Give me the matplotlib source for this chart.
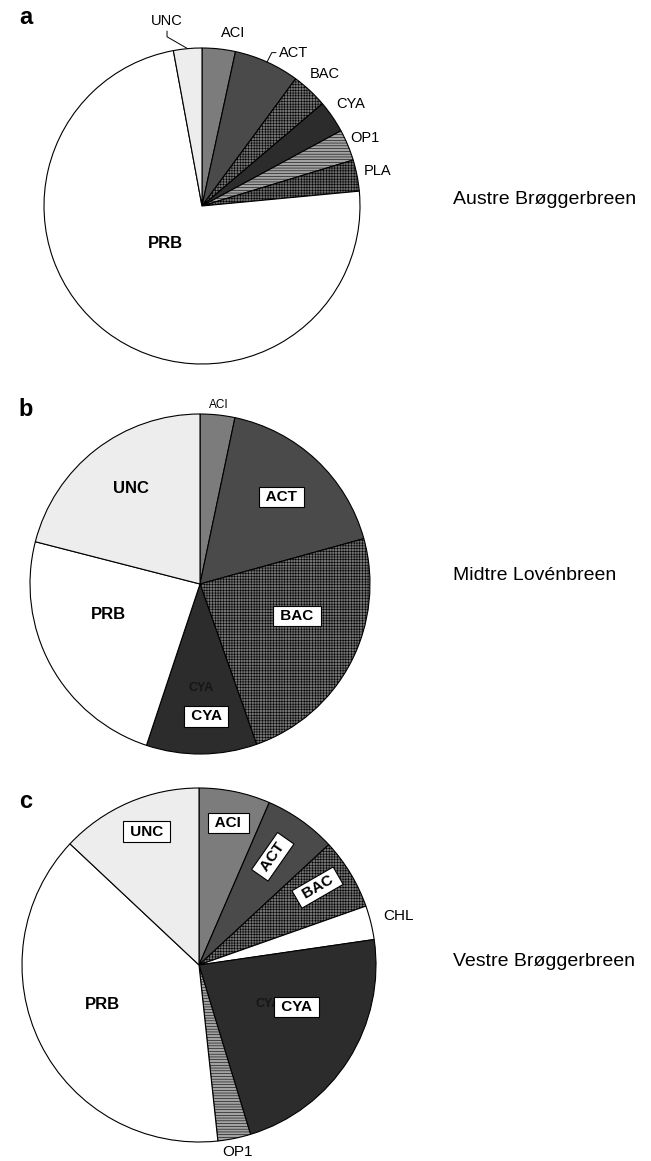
import numpy as np
import matplotlib
matplotlib.use("Agg")
import matplotlib.pyplot as plt

plt.rcParams['font.family'] = ['Liberation Sans', 'DejaVu Sans']
plt.rcParams['hatch.linewidth'] = 0.4

# relative abundance of each group (%), clockwise from 12 o'clock
austre_groups = ['ACI', 'ACT', 'BAC', 'CYA', 'OP1', 'PLA', 'PRB', 'UNC']
austre_pct = [3.4, 6.7, 3.7, 3.3, 3.2, 3.2, 73.6, 2.9]

midtre_groups = ['ACI', 'ACT', 'BAC', 'CYA', 'PRB', 'UNC']
midtre_pct = [3.3, 17.4, 23.9, 10.5, 23.9, 21.0]

vestre_groups = ['ACI', 'ACT', 'BAC', 'CHL', 'CYA', 'OP1', 'PRB', 'UNC']
vestre_pct = [6.5, 6.6, 6.5, 3.1, 22.6, 3.0, 38.7, 13.0]

glaciers = ['Austre Brøggerbreen', 'Midtre Lovénbreen', 'Vestre Brøggerbreen']
panels = ['a', 'b', 'c']

# grey-scale fills per group
fills = {'ACI': '#7c7c7c', 'ACT': '#4a4a4a', 'BAC': '#727272', 'CYA': '#2c2c2c',
         'OP1': '#a2a2a2', 'PLA': '#6a6a6a', 'PRB': 'white', 'UNC': '#ededed',
         'CHL': 'white'}
hatches = {'BAC': '++++++', 'PLA': '++++++', 'OP1': '------'}

W, H = 651, 1161
fig = plt.figure(figsize=(W / 100, H / 100), dpi=100)
ax = fig.add_axes([0, 0, 1, 1])


def draw_pie(groups, pct, cx, cy, r):
    wedges, _ = ax.pie(pct, colors=[fills[g] for g in groups], startangle=90,
                       counterclock=False, center=(cx, H - cy), radius=r,
                       wedgeprops=dict(edgecolor='black', linewidth=0.8))
    for w, g in zip(wedges, groups):
        w.set_hatch(hatches.get(g, ''))
    return dict(zip(groups, wedges))


def spot(w, dist, shift=0):
    # point along the wedge's middle direction; shift is clockwise, degrees
    th = np.radians((w.theta1 + w.theta2) / 2 - shift)
    cx, cy = w.center
    return cx + dist * w.r * np.cos(th), cy + dist * w.r * np.sin(th)


box = dict(boxstyle='square,pad=0.2', fc='white', ec='black', lw=0.8)


def put(w, text, kind, dist, shift=0, rot=0, size=10.5):
    x, y = spot(w, dist, shift)
    if kind == 'out':
        ax.text(x, y, text, fontsize=size, ha='center', va='center')
    elif kind == 'bold':
        ax.text(x, y, text, fontsize=12, weight='bold', ha='center', va='center')
    elif kind == 'box':
        ax.text(x, y, ' %s ' % text, fontsize=11, weight='bold', ha='center',
                va='center', rotation=rot, rotation_mode='anchor', bbox=box,
                zorder=5)
    elif kind == 'faint':
        # label partly covered by the boxed one
        ax.text(x, y, text, fontsize=9, weight='bold', color='#161616',
                ha='center', va='center', zorder=4)


def lead(w, text, dist, shift, angA, angB):
    ex, ey = spot(w, 1.0)
    x, y = spot(w, dist, shift)
    ax.annotate(text, xy=(ex, ey), xytext=(x, y), fontsize=10.5,
                ha='center', va='center',
                arrowprops=dict(arrowstyle='-', lw=0.7, shrinkA=0, shrinkB=0,
                                connectionstyle='angle,angleA=%d,angleB=%d,rad=0'
                                % (angA, angB)))


# a: Austre Brøggerbreen
pa = draw_pie(austre_groups, austre_pct, 202, 206, 158)
lead(pa['UNC'], 'UNC', 1.19, -5.5, 90, 150)
put(pa['ACI'], 'ACI', 'out', 1.11, 4)
lead(pa['ACT'], 'ACT', 1.13, 6.5, 0, 63)
put(pa['BAC'], 'BAC', 'out', 1.14)
put(pa['CYA'], 'CYA', 'out', 1.14)
put(pa['OP1'], 'OP1', 'out', 1.12)
put(pa['PLA'], 'PLA', 'out', 1.13)
put(pa['PRB'], 'PRB', 'bold', 0.33, 7)

# b: Midtre Lovénbreen
pb = draw_pie(midtre_groups, midtre_pct, 200, 584, 170)
put(pb['ACI'], 'ACI', 'out', 1.06, size=8.5)
put(pb['ACT'], 'ACT', 'box', 0.70)
put(pb['BAC'], 'BAC', 'box', 0.60, -9)
put(pb['CYA'], 'CYA', 'faint', 0.61)
put(pb['CYA'], 'CYA', 'box', 0.78, -2)
put(pb['PRB'], 'PRB', 'bold', 0.57, 10)
put(pb['UNC'], 'UNC', 'bold', 0.69, 2)

# c: Vestre Brøggerbreen
pc = draw_pie(vestre_groups, vestre_pct, 199, 965, 177)
put(pc['UNC'], 'UNC', 'box', 0.81, 2)
put(pc['ACI'], 'ACI', 'box', 0.82)
put(pc['ACT'], 'ACT', 'box', 0.74, -1, rot=55)
put(pc['BAC'], 'BAC', 'box', 0.80, -2, rot=30)
put(pc['CHL'], 'CHL', 'out', 1.16, size=11)
put(pc['CYA'], 'CYA', 'faint', 0.45, -3)
put(pc['CYA'], 'CYA', 'box', 0.60, -9)
put(pc['OP1'], 'OP1', 'out', 1.08, size=11)
put(pc['PRB'], 'PRB', 'bold', 0.59, 4.5)

# panel letters and glacier names
for letter, ly in zip(panels, [17, 410, 801]):
    ax.text(26, H - ly, letter, fontsize=17, weight='bold', ha='center', va='center')
for name, ny in zip(glaciers, [200, 576, 961]):
    ax.text(453, H - ny, name, fontsize=14, ha='left', va='center')

ax.set_xlim(0, W)
ax.set_ylim(0, H)
ax.set_aspect('equal')
ax.axis('off')
fig.savefig('out.png', dpi=100, facecolor='white')
